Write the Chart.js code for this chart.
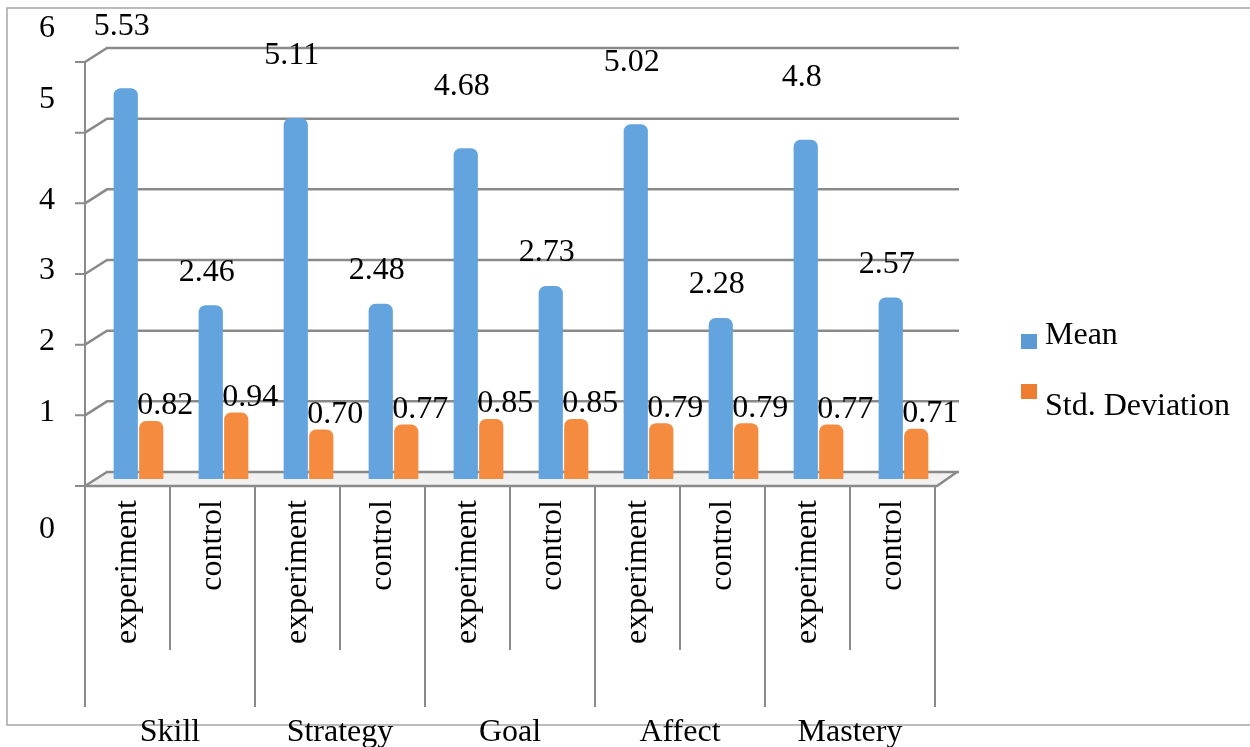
<!DOCTYPE html>
<html lang="en">
<head>
    <meta charset="UTF-8">
    <title>Mean and Std. Deviation by Group</title>
    <script src="https://cdn.jsdelivr.net/npm/chart.js"></script>
    <style>
        html, body { margin: 0; padding: 0; background: #fff; }
        #wrap { width: 1250px; height: 747px; position: relative; }
    </style>
</head>
<body>
    <div id="wrap"><canvas id="meanChart" width="1250" height="747"></canvas></div>

    <script>
        const groups = ['Skill', 'Strategy', 'Goal', 'Affect', 'Mastery'];
        const conditions = ['experiment', 'control'];
        const categories = groups.flatMap(g => conditions.map(c => c));
        const meanValues = [5.53, 2.46, 5.11, 2.48, 4.68, 2.73, 5.02, 2.28, 4.8, 2.57];
        const sdValues = [0.82, 0.94, 0.70, 0.77, 0.85, 0.85, 0.79, 0.79, 0.77, 0.71];
        const yTicks = [0, 1, 2, 3, 4, 5, 6];

        const FONT = '32px "Liberation Serif", "Times New Roman", serif';
        const GRID = '#8a8a8a';
        // 3D depth: bars sit in the middle, front axis is (-11, +7), back wall (+11, -7)
        const DX = 11, DY = 7;

        function cylinder(base, edge) {
            return function (ctx) {
                const chart = ctx.chart;
                if (!chart.chartArea || ctx.dataIndex === undefined) return base;
                const bar = chart.getDatasetMeta(ctx.datasetIndex).data[ctx.dataIndex];
                if (!bar || !bar.width) return base;
                const g = chart.ctx.createLinearGradient(bar.x - bar.width / 2, 0, bar.x + bar.width / 2, 0);
                g.addColorStop(0, edge);
                g.addColorStop(0.45, base);
                g.addColorStop(1, edge);
                return g;
            };
        }

        const threeDFrame = {
            id: 'threeDFrame',
            beforeDatasetsDraw(chart) {
                const { ctx, chartArea, scales: { x, y } } = chart;
                const left = chartArea.left, right = chartArea.right;
                ctx.save();

                // floor
                const z = y.getPixelForValue(0);
                ctx.fillStyle = '#f1f1f1';
                ctx.beginPath();
                ctx.moveTo(left - DX, z + DY);
                ctx.lineTo(right - DX + 2, z + DY);
                ctx.lineTo(right + DX, z - DY);
                ctx.lineTo(left + DX, z - DY);
                ctx.closePath();
                ctx.fill();

                ctx.strokeStyle = GRID;
                ctx.lineWidth = 2.5;
                yTicks.forEach(v => {
                    const py = y.getPixelForValue(v);
                    ctx.beginPath();
                    ctx.moveTo(left - DX, py + DY);
                    ctx.lineTo(left + DX, py - DY);
                    ctx.lineTo(right + DX + 2, py - DY);
                    ctx.stroke();
                });

                // front floor edge
                ctx.beginPath();
                ctx.moveTo(left - DX, z + DY);
                ctx.lineTo(right - DX + 2, z + DY);
                ctx.lineTo(right + DX, z - DY);
                ctx.stroke();

                // front value axis with tick marks
                ctx.lineWidth = 2;
                ctx.beginPath();
                ctx.moveTo(left - DX, y.getPixelForValue(6) + DY);
                ctx.lineTo(left - DX, z + DY);
                yTicks.forEach(v => {
                    const py = y.getPixelForValue(v) + DY;
                    ctx.moveTo(left - DX - 10, py);
                    ctx.lineTo(left - DX, py);
                });
                ctx.stroke();

                // y tick labels (positions as Excel placed them)
                const yShift = { 6: -33, 5: -33, 0: 44 };
                ctx.fillStyle = '#000';
                ctx.font = FONT;
                ctx.textAlign = 'center';
                ctx.textBaseline = 'middle';
                yTicks.forEach(v => {
                    const py = y.getPixelForValue(v) + DY + (yShift[v] !== undefined ? yShift[v] : -3);
                    ctx.fillText(String(v), left - DX - 38, py);
                });

                // category separators and labels
                const step = x.getPixelForValue(1) - x.getPixelForValue(0);
                const front = i => x.getPixelForValue(i) - DX;
                ctx.beginPath();
                for (let i = 0; i <= categories.length; i++) {
                    const px = front(i) - step / 2;
                    ctx.moveTo(px, z + DY);
                    ctx.lineTo(px, i % 2 === 0 ? 707 : 650);
                }
                ctx.stroke();

                categories.forEach((lab, i) => {
                    ctx.save();
                    ctx.translate(front(i), 500);
                    ctx.rotate(-Math.PI / 2);
                    ctx.textAlign = 'right';
                    ctx.textBaseline = 'middle';
                    ctx.fillText(lab, 0, 0);
                    ctx.restore();
                });

                // outer border (right edge runs off the picture)
                ctx.strokeStyle = '#a6a6a6';
                ctx.lineWidth = 1.5;
                ctx.strokeRect(7, 8, 1260, 717);

                ctx.textBaseline = 'alphabetic';
                groups.forEach((g, k) => {
                    const px = (front(2 * k) + front(2 * k + 1)) / 2;
                    ctx.fillText(g, px, 741);
                });

                ctx.restore();
            },
            afterDatasetsDraw(chart) {
                const { ctx } = chart;
                ctx.save();
                ctx.fillStyle = '#000';
                ctx.font = FONT;
                ctx.textAlign = 'center';
                ctx.textBaseline = 'middle';
                chart.getDatasetMeta(0).data.forEach((bar, i) => {
                    const up = i % 2 === 0 ? 62 : 33;
                    ctx.fillText(String(meanValues[i]), bar.x - 4, bar.y - up);
                });
                chart.getDatasetMeta(1).data.forEach((bar, i) => {
                    ctx.fillText(sdValues[i].toFixed(2), bar.x + 14, bar.y - 15);
                });

                // legend
                ctx.textAlign = 'left';
                const items = [
                    { label: chart.data.datasets[0].label, color: '#5b9bd5', y: 341 },
                    { label: chart.data.datasets[1].label, color: '#ed7d31', y: 391 }
                ];
                items.forEach((it, k) => {
                    ctx.fillStyle = it.color;
                    ctx.fillRect(1021, it.y - 7, 16, 15);
                    ctx.fillStyle = '#000';
                    ctx.fillText(it.label, 1045, k === 0 ? 336 : 407);
                });
                ctx.restore();
            }
        };

        new Chart(document.getElementById('meanChart'), {
            type: 'bar',
            data: {
                labels: categories,
                datasets: [
                    {
                        label: 'Mean',
                        data: meanValues,
                        backgroundColor: cylinder('#63a3de', '#3d77b0'),
                        borderRadius: { topLeft: 7, topRight: 7 },
                        borderSkipped: 'bottom'
                    },
                    {
                        label: 'Std. Deviation',
                        data: sdValues,
                        backgroundColor: cylinder('#f58b3e', '#cf6620'),
                        borderRadius: { topLeft: 7, topRight: 7 },
                        borderSkipped: 'bottom'
                    }
                ]
            },
            options: {
                responsive: false,
                animation: false,
                layout: { padding: { left: 96, right: 304, top: 55, bottom: 268 } },
                datasets: { bar: { categoryPercentage: 0.6, barPercentage: 0.95 } },
                plugins: { legend: { display: false }, tooltip: { enabled: false } },
                scales: {
                    x: { display: false },
                    y: { display: false, min: 0, max: 6 }
                }
            },
            plugins: [threeDFrame]
        });
    </script>
</body>
</html>
